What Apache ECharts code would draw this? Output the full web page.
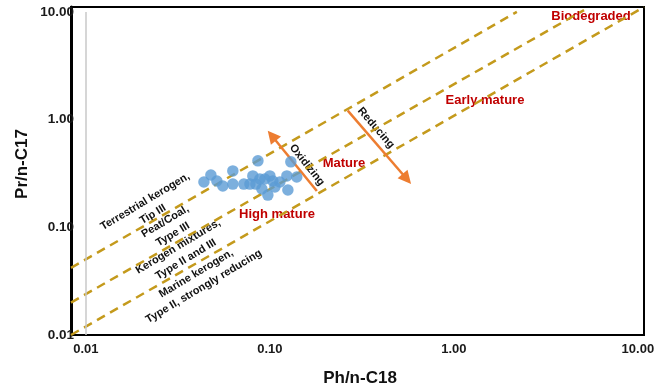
<!DOCTYPE html>
<html>
<head>
<meta charset="utf-8">
<script src="https://cdn.jsdelivr.net/npm/echarts@6/dist/echarts.min.js"></script>
<style>html,body{margin:0;padding:0;background:#fff}#c{width:670px;height:390px}</style>
</head>
<body>
<div id="c"></div>
<script>
// Sample points (Ph/n-C18, Pr/n-C17)
const phC18 = [0.0438,0.0478,0.0515,0.0555,0.0629,0.0629,0.0722,0.0808,0.0861,0.0839,0.0905,0.0939,0.1000,0.1038,0.0975,0.1065,0.1253,0.1237,0.1300,0.1400,0.1133,0.0882,0.0779];
const prC17 = [0.2634,0.3060,0.2690,0.2416,0.3340,0.2520,0.2520,0.2999,0.4140,0.2520,0.2265,0.2810,0.2999,0.2690,0.1990,0.2365,0.2218,0.3000,0.4050,0.2930,0.2634,0.2810,0.2520];
// Dashed Pr/Ph boundary lines: [x0, y0, x1, y1]
const boundTop = [0.0083, 0.042, 2.2, 10];
const boundMid = [0.0083, 0.020, 5.1, 10.4];
const boundLow = [0.0083, 0.010, 10.8, 11.1];
// Arrows [xTail, yTail, xHead, yHead]
const arrowOxidizing = [0.180, 0.217, 0.1025, 0.709];
const arrowReducing = [0.265, 1.21, 0.555, 0.281];
const xTicks = [0.01, 0.1, 1, 10];
const yTicks = [0.01, 0.1, 1, 10];
const xRange = [0.0083, 10.8];
const yRange = [0.01, 11.1];

const chart = echarts.init(document.getElementById('c'));
const gold = '#C49A1C';
const dash = {color: gold, width: 2.5, type: [9, 6]};
function seg(a){return [[a[0],a[1]],[a[2],a[3]]];}
const font = '"Liberation Sans", Arial, sans-serif';
const blackTxt = (x,y,rot,t)=>({type:'text', x:x, y:y, rotation:rot, style:{text:t, font:'bold 11px '+font, fill:'#111', align:'center', verticalAlign:'middle', lineHeight:15}});
const redTxt = (x,y,t)=>({type:'text', x:x, y:y, style:{text:t, font:'bold 13px '+font, fill:'#C00000', align:'center', verticalAlign:'middle'}});

chart.setOption({
  animation: false,
  grid: {left: 71, right: 26, top: 7, bottom: 55, show: true, borderColor: '#000', borderWidth: 2},
  xAxis: {
    type: 'log', min: xRange[0], max: xRange[1], logBase: 10,
    axisLine: {show: true, lineStyle: {color: '#000', width: 2}},
    axisTick: {show: false}, splitLine: {show: false},
    axisLabel: {margin: 8, fontWeight: 'bold', fontSize: 13, fontFamily: font, color: '#1a1a1a',
      showMinLabel: false, showMaxLabel: false,
      formatter: v => { const m = xTicks.find(t => Math.abs(Math.log10(v) - Math.log10(t)) < 0.01); return m !== undefined ? m.toFixed(2) : ''; }}
  },
  yAxis: {
    type: 'log', min: yRange[0], max: yRange[1], logBase: 10,
    axisLine: {show: true, lineStyle: {color: '#000', width: 3}},
    axisTick: {show: false}, splitLine: {show: false},
    axisLabel: {margin: -3, fontWeight: 'bold', fontSize: 13.5, fontFamily: font, color: '#1a1a1a',
      showMaxLabel: false,
      formatter: v => { const m = yTicks.find(t => Math.abs(Math.log10(v) - Math.log10(t)) < 0.01); return m !== undefined ? m.toFixed(2) : ''; }}
  },
  series: [
    {type: 'line', data: seg(boundTop), showSymbol: false, lineStyle: dash, silent: true, z: 2},
    {type: 'line', data: seg(boundMid), showSymbol: false, lineStyle: dash, silent: true, z: 2},
    {type: 'line', data: seg(boundLow), showSymbol: false, lineStyle: dash, silent: true, z: 2,
      markLine: {silent: true, symbol: ['none','none'], label: {show: false},
        lineStyle: {color: '#c8c8c8', width: 1.5, type: 'solid'},
        data: [[{coord: [xTicks[0], yTicks[0]]}, {coord: [xTicks[0], yTicks[3]]}]]}},
    {type: 'scatter', data: phC18.map((x,i)=>[x, prC17[i]]), symbolSize: 11.5,
      itemStyle: {color: '#5B9BD5'}, z: 5},
    {type: 'line', data: [], markLine: {silent: true, label: {show: false},
      symbol: ['none', 'triangle'], symbolSize: 13,
      lineStyle: {color: '#ED7D31', width: 2.5, type: 'solid'},
      data: [
        [{coord: [arrowOxidizing[0], arrowOxidizing[1]]}, {coord: [arrowOxidizing[2], arrowOxidizing[3]]}],
        [{coord: [arrowReducing[0], arrowReducing[1]]}, {coord: [arrowReducing[2], arrowReducing[3]]}]
      ]}}
  ],
  graphic: [
    {type: 'text', x: 360, y: 378, style: {text: 'Ph/n-C18', font: 'bold 17px ' + font, fill: '#111', align: 'center', verticalAlign: 'middle'}},
    {type: 'text', x: 22, y: 164, rotation: Math.PI/2, style: {text: 'Pr/n-C17', font: 'bold 17px ' + font, fill: '#111', align: 'center', verticalAlign: 'middle'}},
    redTxt(591, 16, 'Biodegraded'),
    redTxt(485, 100, 'Early mature'),
    redTxt(344, 163, 'Mature'),
    redTxt(277, 214, 'High mature'),
    blackTxt(307, 165, -0.90, 'Oxidizing'),
    blackTxt(376, 128, -0.86, 'Reducing'),
    blackTxt(149, 208, 0.54, 'Terrestrial kerogen,\nTip III'),
    blackTxt(169, 228, 0.54, 'Peat/Coal,\nType III'),
    blackTxt(182, 253, 0.54, 'Kerogen mixtures,\nType II and III'),
    blackTxt(200, 280, 0.54, 'Marine kerogen,\nType II, strongly reducing')
  ]
});
</script>
</body>
</html>
